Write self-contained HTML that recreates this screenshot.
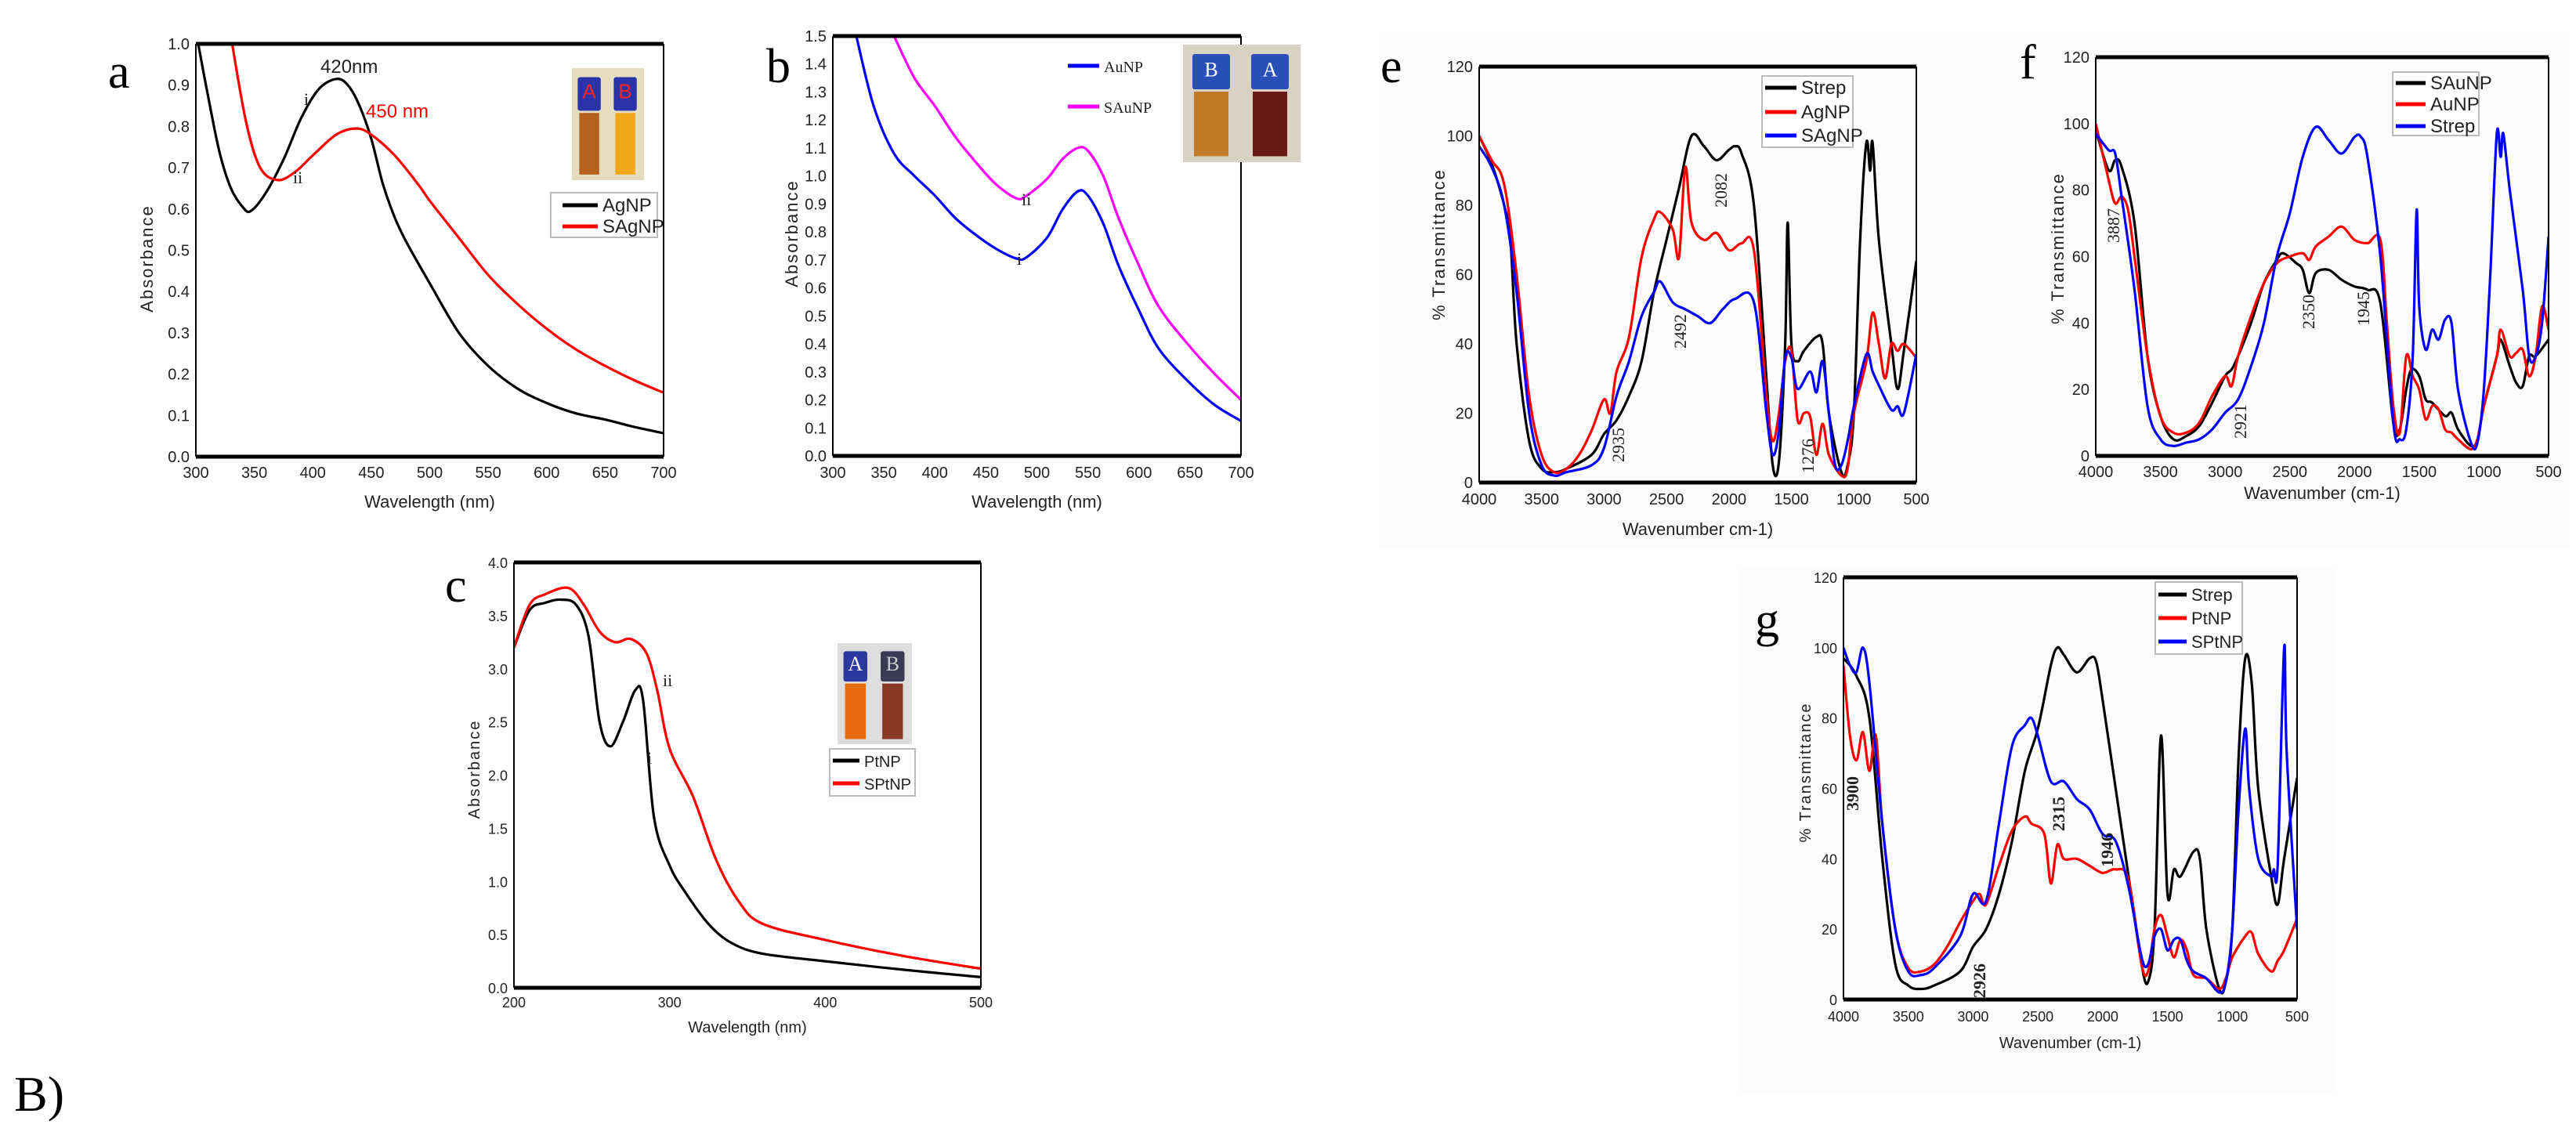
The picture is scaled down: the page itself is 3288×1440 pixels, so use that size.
<!DOCTYPE html>
<html><head><meta charset="utf-8"><style>
html,body{margin:0;padding:0;background:#fff;}
svg{display:block;}
text{font-family:"Liberation Sans",sans-serif;}
.ser{font-family:"Liberation Serif",serif;}
</style></head><body>
<svg id="fig" width="3288" height="1440" viewBox="0 0 3288 1440" xmlns="http://www.w3.org/2000/svg">
<rect x="1760" y="40" width="1520" height="660" fill="#fcfcfc"/>
<rect x="2220" y="725" width="760" height="670" fill="#fcfcfc"/>
</svg>
<script>
// ---- Panel a (UV-Vis Ag) ----
const aAgX=[302,310,320,330,340,347,360,375,390,405,420,430,440,450,460,470,480,500,525,550,575,600,625,650,675,700];
const aAgY=[1.0,0.88,0.74,0.65,0.605,0.595,0.64,0.72,0.82,0.89,0.915,0.9,0.85,0.77,0.66,0.58,0.52,0.42,0.3,0.22,0.165,0.13,0.105,0.09,0.072,0.057];
const aSAgX=[331,343,355,370,385,400,420,437,450,470,490,500,525,550,575,600,625,650,675,700];
const aSAgY=[1.0,0.81,0.7,0.67,0.69,0.73,0.78,0.795,0.78,0.73,0.66,0.62,0.53,0.44,0.37,0.31,0.26,0.22,0.185,0.155];
// ---- Panel b (UV-Vis Au) ----
const bAuX=[323,340,360,380,400,420,440,460,480,490,510,525,540,550,565,580,600,620,650,675,700];
const bAuY=[1.5,1.25,1.08,1.0,0.93,0.85,0.79,0.74,0.705,0.71,0.78,0.88,0.945,0.93,0.83,0.68,0.52,0.38,0.26,0.18,0.125];
const bSAuX=[360,380,400,420,440,460,480,490,510,525,540,550,565,580,600,620,650,675,700];
const bSAuY=[1.5,1.35,1.25,1.14,1.05,0.97,0.92,0.93,0.99,1.06,1.1,1.09,1.0,0.85,0.68,0.53,0.39,0.29,0.2];
// ---- Panel c (UV-Vis Pt) ----
const cPtX=[200,210,220,230,240,248,255,262,270,278,283,290,300,310,325,340,360,400,450,500];
const cPtY=[3.2,3.55,3.62,3.65,3.6,3.3,2.5,2.27,2.5,2.8,2.7,1.6,1.15,0.9,0.6,0.42,0.32,0.25,0.17,0.1];
const cSPtX=[200,210,220,235,245,255,265,275,285,292,300,315,330,345,360,400,450,500];
const cSPtY=[3.2,3.6,3.7,3.76,3.6,3.35,3.25,3.28,3.15,2.8,2.25,1.8,1.2,0.8,0.6,0.45,0.3,0.18];
// ---- Panel e (FTIR Ag) ----
const eStrepX=[4000,3900,3800,3750,3700,3600,3500,3400,3300,3100,3000,2900,2800,2700,2600,2500,2400,2300,2200,2100,2000,1950,1900,1800,1700,1650,1600,1550,1530,1500,1450,1400,1300,1250,1200,1100,1050,1000,950,900,870,850,800,700,650,600,500];
const eStrepY=[100,92,80,70,40,12,4,3,4,8,14,18,25,35,55,70,85,100,97,93,96,97,95,80,30,5,6,40,75,40,35,38,42,40,20,3,5,20,70,98,90,98,70,40,27,38,64];
const eAgX=[4000,3900,3800,3700,3600,3500,3400,3300,3200,3100,3000,2950,2900,2800,2700,2600,2550,2450,2400,2350,2300,2200,2100,2000,1900,1800,1700,1650,1600,1550,1500,1450,1400,1350,1300,1250,1200,1100,1050,1000,900,850,800,750,700,650,600,500];
const eAgY=[100,93,86,60,25,8,3,4,8,15,24,20,32,42,65,76,78,73,65,91,75,70,72,67,69,67,25,12,20,35,38,18,20,19,8,17,8,2,4,20,35,49,40,30,40,38,40,36];
const eSAgX=[4000,3900,3800,3700,3600,3500,3400,3300,3100,3000,2900,2800,2700,2600,2550,2450,2350,2250,2150,2050,1950,1800,1700,1650,1600,1550,1500,1450,1350,1300,1250,1200,1150,1100,1050,1000,900,850,800,700,650,600,500];
const eSAgY=[97,91,80,55,20,5,2,3,5,10,25,35,48,55,58,52,50,48,46,50,53,52,20,8,15,36,36,27,32,26,35,20,5,5,12,22,37,32,28,21,22,20,37];
// ---- Panel f (FTIR Au) ----
const fSAuX=[4000,3900,3850,3800,3700,3600,3500,3400,3300,3200,3100,3000,2950,2900,2800,2700,2600,2550,2450,2400,2350,2300,2200,2100,2000,1900,1800,1700,1650,1600,1560,1500,1450,1400,1300,1250,1200,1100,1050,1000,900,870,800,750,700,650,600,500];
const fSAuY=[98,86,89,87,70,30,12,5,6,9,16,24,26,30,40,52,59,61,58,56,49,55,56,53,51,50,46,10,8,20,26,24,17,16,12,13,8,3,5,15,30,35,27,22,21,30,30,35];
const fAuX=[4000,3900,3850,3800,3750,3700,3600,3500,3400,3300,3200,3100,3000,2950,2900,2800,2700,2600,2500,2400,2350,2300,2200,2100,2000,1900,1800,1750,1700,1650,1600,1550,1500,1450,1400,1350,1300,1250,1200,1100,1050,1000,900,870,800,750,700,650,600,550,500];
const fAuY=[100,83,76,78,74,60,30,12,7,7,10,18,24,21,30,42,52,58,60,61,59,63,66,69,65,64,65,40,15,7,30,24,20,11,15,14,8,7,5,2,5,15,30,38,30,31,32,24,30,45,38];
const fStrepX=[4000,3900,3850,3800,3700,3600,3500,3400,3300,3200,3100,3000,2900,2800,2700,2600,2500,2400,2300,2200,2100,2000,1950,1900,1800,1700,1650,1600,1550,1520,1500,1450,1400,1350,1300,1250,1200,1100,1050,1000,950,900,870,850,800,700,650,600,550,500];
const fStrepY=[97,92,91,78,50,15,5,3,4,5,8,13,17,27,40,60,73,90,99,95,91,96,96,90,60,10,5,8,30,74,45,32,38,35,41,40,20,4,4,20,55,97,90,97,80,50,30,30,40,66];
// ---- Panel g (FTIR Pt) ----
const gStrepX=[4000,3900,3800,3700,3600,3500,3400,3300,3100,3000,2900,2800,2700,2600,2500,2400,2350,2300,2200,2100,2050,2000,1900,1800,1700,1650,1600,1550,1500,1450,1400,1300,1250,1200,1100,1050,1000,950,900,850,800,700,650,600,500];
const gStrepY=[97,92,80,40,10,4,3,4,8,15,20,30,45,65,77,95,100,98,93,97,96,85,60,35,10,5,20,75,30,37,35,42,40,20,3,5,20,70,97,90,60,35,27,40,63];
const gPtX=[4000,3950,3900,3850,3800,3750,3700,3600,3500,3400,3300,3200,3100,3000,2950,2900,2800,2700,2600,2550,2450,2400,2350,2300,2200,2100,2000,1900,1800,1700,1650,1600,1550,1500,1450,1400,1350,1300,1200,1100,1050,1000,900,850,800,700,650,600,500];
const gPtY=[95,75,68,76,65,75,50,20,9,8,10,15,22,28,30,27,38,48,52,50,47,33,44,40,40,38,36,37,34,10,8,20,24,18,12,17,14,7,6,3,6,12,18,19,13,8,11,14,23];
const gSPtX=[4000,3950,3900,3850,3800,3700,3600,3500,3400,3300,3100,3000,2900,2800,2700,2600,2550,2500,2400,2300,2200,2100,2000,1900,1800,1700,1650,1600,1550,1500,1450,1400,1350,1300,1200,1100,1050,1000,950,900,870,800,700,680,650,600,580,500];
const gSPtY=[100,95,93,100,90,50,20,8,7,9,18,30,28,50,72,78,80,75,62,62,57,54,47,45,32,12,10,18,20,14,17,17,11,8,6,2,5,20,55,77,60,40,35,37,38,100,70,20];

const uvTicksA=['0.0','0.1','0.2','0.3','0.4','0.5','0.6','0.7','0.8','0.9','1.0'];
const uvTicksB=['0.0','0.1','0.2','0.3','0.4','0.5','0.6','0.7','0.8','0.9','1.0','1.1','1.2','1.3','1.4','1.5'];
const uvTicksC=['0.0','0.5','1.0','1.5','2.0','2.5','3.0','3.5','4.0'];
const wlTicksAB=[300,350,400,450,500,550,600,650,700];
const wlTicksC=[200,300,400,500];
const ftirYTicks=[0,20,40,60,80,100,120];
const ftirXTicks=[4000,3500,3000,2500,2000,1500,1000,500];

const NS='http://www.w3.org/2000/svg';
const svg=document.getElementById('fig');
function mk(tag,attrs,parent,txt){const e=document.createElementNS(NS,tag);for(const k in attrs)e.setAttribute(k,attrs[k]);if(txt!==undefined)e.textContent=txt;(parent||svg).appendChild(e);return e;}
function smoothPath(P){
  let d='M'+P[0][0].toFixed(1)+','+P[0][1].toFixed(1);
  for(let i=0;i<P.length-1;i++){
    const p0=P[i-1]||P[i],p1=P[i],p2=P[i+1],p3=P[i+2]||p2;
    const c1=[p1[0]+(p2[0]-p0[0])/6,p1[1]+(p2[1]-p0[1])/6];
    const c2=[p2[0]-(p3[0]-p1[0])/6,p2[1]-(p3[1]-p1[1])/6];
    d+=' C'+c1[0].toFixed(1)+','+c1[1].toFixed(1)+' '+c2[0].toFixed(1)+','+c2[1].toFixed(1)+' '+p2[0].toFixed(1)+','+p2[1].toFixed(1);
  }
  return d;
}

function makePanel(p){
  const g=mk('g',{});
  
  
  const sx=v=>p.L+(v-p.x0)/(p.x1-p.x0)*(p.R-p.L);
  const sy=v=>p.B-(v-p.y0)/(p.y1-p.y0)*(p.B-p.T);
  p.yt.forEach(t=>{const v=parseFloat(t);
    const tx=mk('text',{x:p.L-8,y:sy(v)+7,'font-size':p.fs||20,'text-anchor':'end',fill:'#222'},g,t);
    
    
  });
  p.xt.forEach(t=>{
    const tx=mk('text',{x:sx(t),y:p.xtY,'font-size':p.fs||20,'text-anchor':'middle',fill:'#222'},g,String(t));
    
    
  });
  const xt=mk('text',{x:(p.L+p.R)/2,y:p.xtitleY,'font-size':p.tfs||22,'text-anchor':'middle',fill:'#222'},g,p.xtitle);
  
  
  const yt=mk('text',{x:p.ytX,y:p.ytY,'font-size':p.tfs||22,'text-anchor':'middle',fill:'#222','letter-spacing':'2',transform:`rotate(-90 ${p.ytX} ${p.ytY})`},g,p.ytitle);
  
  
  const clipId='clip'+p.id;
  const cp=mk('clipPath',{id:clipId},g);mk('rect',{x:p.L,y:p.T,width:p.R-p.L,height:p.B-p.T},cp);
  p.series.forEach(s=>{
    const P=s.x.map((x,i)=>[sx(x),sy(s.y[i])]);
    const pl=mk('path',{d:smoothPath(P),fill:'none',stroke:s.c,'stroke-width':3.2,'stroke-linejoin':'round','clip-path':`url(#${clipId})`},g);
    
    
  });
  mk('line',{x1:p.L,y1:p.T,x2:p.L,y2:p.B,stroke:'#000','stroke-width':2},g);
  mk('line',{x1:p.R,y1:p.T,x2:p.R,y2:p.B,stroke:'#000','stroke-width':2},g);
  mk('line',{x1:p.L,y1:p.T,x2:p.R,y2:p.T,stroke:'#000','stroke-width':5},g);
  mk('line',{x1:p.L,y1:p.B,x2:p.R,y2:p.B,stroke:'#000','stroke-width':5},g);
  const lt=mk('text',{x:p.lx,y:p.ly,'font-size':62,class:'ser',fill:'#000'},g,p.id);
  
  
  return g;
}

makePanel({id:'a',L:250,R:847,T:56,B:583,x0:300,x1:700,y0:0,y1:1,yt:uvTicksA,xt:wlTicksAB,xtY:610,xtitle:'Wavelength (nm)',xtitleY:648,ytitle:'Absorbance',ytX:195,ytY:330,lx:138,ly:112,
  series:[{n:'agnp',x:aAgX,y:aAgY,c:'#000'},{n:'sagnp',x:aSAgX,y:aSAgY,c:'#f00'}]});
makePanel({id:'b',L:1063,R:1584,T:46,B:582,x0:300,x1:700,y0:0,y1:1.5,yt:uvTicksB,xt:wlTicksAB,xtY:610,xtitle:'Wavelength (nm)',xtitleY:648,ytitle:'Absorbance',ytX:1018,ytY:298,lx:978,ly:105,
  series:[{n:'aunp',x:bAuX,y:bAuY,c:'#00f'},{n:'saunp',x:bSAuX,y:bSAuY,c:'#f0f'}]});
makePanel({id:'c',L:656,R:1252,T:718,B:1261,x0:200,x1:500,y0:0,y1:4,yt:uvTicksC,xt:wlTicksC,xtY:1286,xtitle:'Wavelength (nm)',xtitleY:1318,ytitle:'Absorbance',ytX:612,ytY:982,lx:568,ly:768,fs:18,tfs:20,
  series:[{n:'ptnp',x:cPtX,y:cPtY,c:'#000'},{n:'sptnp',x:cSPtX,y:cSPtY,c:'#f00'}]});
makePanel({id:'e',L:1888,R:2446,T:85,B:616,x0:4000,x1:500,y0:0,y1:120,yt:ftirYTicks.map(String),xt:ftirXTicks,xtY:644,xtitle:'Wavenumber cm-1)',xtitleY:683,ytitle:'% Transmittance',ytX:1844,ytY:312,lx:1762,ly:105,
  series:[{n:'strep',x:eStrepX,y:eStrepY,c:'#000'},{n:'agnp',x:eAgX,y:eAgY,c:'#f00'},{n:'sagnp',x:eSAgX,y:eSAgY,c:'#00f'}]});
makePanel({id:'f',L:2675,R:3253,T:73,B:582,x0:4000,x1:500,y0:0,y1:120,yt:ftirYTicks.map(String),xt:ftirXTicks,xtY:609,xtitle:'Wavenumber (cm-1)',xtitleY:637,ytitle:'% Transmittance',ytX:2634,ytY:317,lx:2578,ly:100,
  series:[{n:'saunp',x:fSAuX,y:fSAuY,c:'#000'},{n:'aunp',x:fAuX,y:fAuY,c:'#f00'},{n:'strep',x:fStrepX,y:fStrepY,c:'#00f'}]});
makePanel({id:'g',L:2353,R:2932,T:737,B:1276,x0:4000,x1:500,y0:0,y1:120,yt:ftirYTicks.map(String),xt:ftirXTicks,xtY:1304,xtitle:'Wavenumber (cm-1)',xtitleY:1338,ytitle:'% Transmittance',ytX:2311,ytY:986,lx:2240,ly:812,fs:18,tfs:20,
  series:[{n:'strep',x:gStrepX,y:gStrepY,c:'#000'},{n:'ptnp',x:gPtX,y:gPtY,c:'#f00'},{n:'sptnp',x:gSPtX,y:gSPtY,c:'#00f'}]});

function txt(x,y,s,opt,name){const o=Object.assign({x:x,y:y,'font-size':22,fill:'#222'},opt||{});
  if(o.rot){o.transform=`rotate(-90 ${x} ${y})`;delete o.rot;}
  const t=mk('text',o,svg,s);
  
  return t;}
function legend(box,entries,name){
  const g=mk('g',{});
  
  
  if(box)mk('rect',{x:box[0],y:box[1],width:box[2],height:box[3],fill:'#fff',stroke:'#bbb','stroke-width':2},g);
  entries.forEach(e=>{
    mk('line',{x1:e.x,y1:e.y,x2:e.x+e.w,y2:e.y,stroke:e.c,'stroke-width':5},g);
    const t=mk('text',{x:e.x+e.w+6,y:e.y+8,'font-size':e.fs||24,fill:'#222',class:e.serif?'ser':''},g,e.t);
    
    
  });
}
function vials(x,y,w,h,bg,v,name){
  const g=mk('g',{});
  
  
  mk('rect',{x:x,y:y,width:w,height:h,fill:bg},g);
  const vw=w*0.32;
  v.forEach((d,i)=>{const vx=x+w*(0.08+i*0.5);
    mk('rect',{x:vx,y:y+h*0.08,width:vw,height:h*0.3,fill:d.cap,rx:3},g);
    mk('rect',{x:vx+2,y:y+h*0.4,width:vw-4,height:h*0.55,fill:d.liq},g);
    mk('text',{x:vx+vw/2,y:y+h*0.27,'font-size':d.fs||26,'text-anchor':'middle',fill:d.lc,class:d.serif?'ser':''},g,d.l);
  });
}
vials(730,87,92,143,'#e6dcc0',[{cap:'#2a34a8',liq:'#b4621e',l:'A',lc:'#f22'},{cap:'#2a34a8',liq:'#f0a818',l:'B',lc:'#f22'}],'inset-photo-a');
legend([703,246,136,57],[{x:718,y:262,w:45,c:'#000',t:'AgNP'},{x:718,y:289,w:45,c:'#f00',t:'SAgNP'}],'legend-a');
txt(409,93,'420nm',{'font-size':24},'annotation-420nm');
txt(467,150,'450 nm',{'font-size':24,fill:'#f00'},'annotation-450nm');
txt(388,134,'i',{class:'ser'},'annotation-i');
txt(374,234,'ii',{class:'ser'},'annotation-ii');
vials(1510,57,150,150,'#d9d2c4',[{cap:'#2a50b8',liq:'#c07a28',l:'B',lc:'#fff',serif:true},{cap:'#2a50b8',liq:'#6a1a14',l:'A',lc:'#fff',serif:true}],'inset-photo-b');
legend(null,[{x:1363,y:84,w:40,c:'#00f',t:'AuNP',serif:true,fs:20},{x:1363,y:136,w:40,c:'#f0f',t:'SAuNP',serif:true,fs:20}],'legend-b');
txt(1304,262,'ii',{class:'ser'},'annotation-ii-b');
txt(1298,338,'i',{class:'ser'},'annotation-i-b');
vials(1069,821,95,129,'#ddd',[{cap:'#2a3aa0',liq:'#e86a10',l:'A',lc:'#fff',serif:true},{cap:'#3a3a55',liq:'#8a3a24',l:'B',lc:'#ccc',serif:true}],'inset-photo-c');
legend([1059,956,109,60],[{x:1063,y:971,w:34,c:'#000',t:'PtNP',fs:20},{x:1063,y:1000,w:34,c:'#f00',t:'SPtNP',fs:20}],'legend-c');
txt(846,876,'ii',{class:'ser'},'annotation-ii-c');
txt(826,975,'i',{class:'ser'},'annotation-i-c');
legend([2249,97,116,91],[{x:2253,y:112,w:40,c:'#000',t:'Strep'},{x:2253,y:143,w:40,c:'#f00',t:'AgNP'},{x:2253,y:173,w:40,c:'#00f',t:'SAgNP'}],'legend-e');
[['2935',2073,590],['2492',2152,445],['2082',2204,265],['1276',2315,604]].forEach(a=>txt(a[1],a[2],a[0],{rot:1,class:'ser','font-size':22},'annotation-'+a[0]));
legend([3054,92,110,81],[{x:3058,y:106,w:38,c:'#000',t:'SAuNP'},{x:3058,y:133,w:38,c:'#f00',t:'AuNP'},{x:3058,y:161,w:38,c:'#00f',t:'Strep'}],'legend-f');
[['3887',2705,310],['2921',2867,560],['2350',2954,420],['1945',3024,416]].forEach(a=>txt(a[1],a[2],a[0],{rot:1,class:'ser','font-size':22},'annotation-'+a[0]));
legend([2751,743,111,92],[{x:2755,y:759,w:36,c:'#000',t:'Strep',fs:22},{x:2755,y:789,w:36,c:'#f00',t:'PtNP',fs:22},{x:2755,y:819,w:36,c:'#00f',t:'SPtNP',fs:22}],'legend-g');
[['3900',2372,1035],['2926',2534,1274],['2315',2635,1061],['1946',2697,1107]].forEach(a=>txt(a[1],a[2],a[0],{rot:1,class:'ser','font-size':22,'font-weight':'bold'},'annotation-'+a[0]));
txt(18,1418,'B)',{class:'ser','font-size':64,fill:'#000'},'figure-part-label');
</script>
</body></html>
